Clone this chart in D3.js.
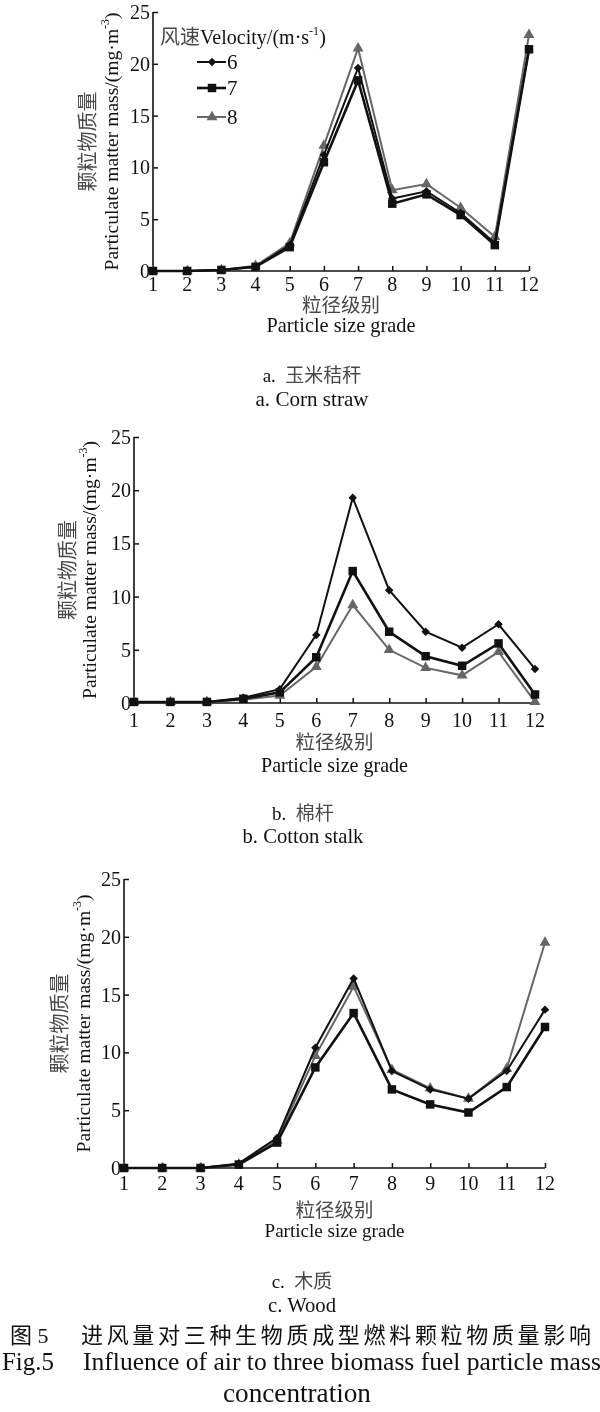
<!DOCTYPE html>
<html><head><meta charset="utf-8">
<script src="https://cdn.jsdelivr.net/npm/d3@7/dist/d3.min.js"></script>
<style>
body{margin:0;background:#fff;}
svg{display:block;will-change:transform;}
.en{font-family:"Liberation Serif","Times New Roman",serif;fill:#111;}
.zh{font-family:"Liberation Serif","Noto Sans CJK SC",sans-serif;fill:#484848;}
</style></head>
<body>
<svg id="chart" width="600" height="1412"></svg>
<script>
// ---------- data ----------
const grades = [1,2,3,4,5,6,7,8,9,10,11,12];
const yTicks = [0,5,10,15,20,25];
const velocities = ["6","7","8"];

const cornV6 = [0,0,0.1,0.4,2.5,11.2,19.6,7.0,7.7,5.6,2.7,21.4];
const cornV7 = [0,0,0.1,0.4,2.3,10.5,18.4,6.5,7.4,5.4,2.5,21.4];
const cornV8 = [0,0,0.1,0.5,2.7,12.1,21.5,7.8,8.4,6.1,3.3,22.8];

const cottonV6 = [0.1,0.1,0.1,0.5,1.3,6.4,19.3,10.6,6.7,5.2,7.4,3.2];
const cottonV7 = [0.1,0.1,0.1,0.4,1.0,4.3,12.4,6.7,4.4,3.5,5.6,0.8];
const cottonV8 = [0.1,0.1,0.1,0.3,0.7,3.4,9.2,5.0,3.3,2.6,4.8,0.1];

const woodV6 = [0,0,0,0.4,2.6,10.4,16.4,8.4,6.8,6.0,8.4,13.7];
const woodV7 = [0,0,0,0.3,2.2,8.7,13.4,6.8,5.5,4.8,7.0,12.2];
const woodV8 = [0,0,0,0.3,2.4,9.7,15.7,8.5,6.9,6.0,8.6,19.5];

const panelCapLetters = ["a.","b.","c."];
const panelCaptionsZh = ["玉米秸秆","棉杆","木质"];
const panelCaptionsEn = ["a. Corn straw","b. Cotton stalk","c. Wood"];

// ---------- styles / layout ----------
const seriesStyle = [
  {color:"#111", width:2,   symbol:"diamond",  size:36},
  {color:"#111", width:2.6, symbol:"square",   size:72},
  {color:"#666", width:2,   symbol:"triangle", size:52}
];

const panels = [
  {series:[cornV6,cornV7,cornV8], left:153, right:529, top:12, bottom:271,
   zhX:88, enX:111, tickBase:291, xZhBase:312, xEnBase:332, psgW:149,
   capZhBase:382, capEnBase:406, capX:312, capEnW:113, legend:true},
  {series:[cottonV6,cottonV7,cottonV8], left:134, right:535, top:437, bottom:703,
   zhX:68, enX:89, tickBase:727, xZhBase:749, xEnBase:772, psgW:147,
   capZhBase:820, capEnBase:843, capX:303, capEnW:121, legend:false},
  {series:[woodV6,woodV7,woodV8], left:124, right:545, top:879, bottom:1168,
   zhX:60, enX:83, tickBase:1190, xZhBase:1217, xEnBase:1237, psgW:140,
   capZhBase:1288, capEnBase:1312, capX:302, capEnW:68, legend:false}
];

const svg = d3.select("#chart");

function fitWidth(sel, w){
  const n = sel.node();
  const cur = n.getComputedTextLength();
  const fs = parseFloat(sel.attr("font-size"));
  if(cur>0) sel.attr("font-size", (fs*w/cur).toFixed(2));
  return sel;
}
function symbolPath(kind, size){
  if(kind==="triangle") return d3.symbol().type(d3.symbolTriangle).size(size)();
  return d3.symbol().type(d3.symbolSquare).size(size)();
}

panels.forEach((p, pi) => {
  const x = d3.scaleLinear().domain([1,12]).range([p.left, p.right]);
  const y = d3.scaleLinear().domain([0,25]).range([p.bottom, p.top]);
  const g = svg.append("g");

  // y axis (ticks inward)
  const ya = g.append("g").attr("transform",`translate(${p.left},0)`)
    .call(d3.axisRight(y).tickValues(yTicks).tickSize(5).tickFormat(""));
  ya.select(".domain").attr("stroke","#111").attr("stroke-width",1.6)
    .attr("d",`M0,${p.top}V${p.bottom}`);
  ya.selectAll(".tick line").attr("stroke","#111").attr("stroke-width",1.5);
  g.selectAll(".ylab").data(yTicks).enter().append("text")
    .attr("class","en").attr("x",p.left-3).attr("y",d=>y(d)+7)
    .attr("text-anchor","end").attr("font-size",20).text(d=>d);

  // x axis (ticks upward)
  const xa = g.append("g").attr("transform",`translate(0,${p.bottom})`)
    .call(d3.axisTop(x).tickValues(grades).tickSize(5).tickFormat(""));
  xa.select(".domain").attr("stroke","#111").attr("stroke-width",1.6)
    .attr("d",`M${p.left},0H${p.right}`);
  xa.selectAll(".tick line").attr("stroke","#111").attr("stroke-width",1.5);
  g.selectAll(".xlab").data(grades).enter().append("text")
    .attr("class","en").attr("x",d=>x(d)).attr("y",p.tickBase)
    .attr("text-anchor","middle").attr("font-size",20).text(d=>d);

  // axis titles
  const cx = (p.left+p.right)/2, cy = (p.top+p.bottom)/2;
  g.append("text").attr("class","zh").attr("font-size",20)
    .attr("transform",`translate(${p.zhX},${cy}) rotate(-90)`)
    .attr("text-anchor","middle").attr("dy","0.35em").text("颗粒物质量");
  const en = g.append("text").attr("class","en").attr("font-size",19)
    .attr("transform",`translate(${p.enX},${cy}) rotate(-90)`)
    .attr("text-anchor","middle").attr("dy","0.35em");
  en.append("tspan").text("Particulate matter mass/(mg·m");
  en.append("tspan").attr("font-size","0.6em").attr("dy","-0.75em").text("-3");
  en.append("tspan").attr("dy","0.45em").text(")");
  fitWidth(en, 258);
  g.append("text").attr("class","zh").attr("font-size",19.5).attr("x",cx).attr("y",p.xZhBase)
    .attr("text-anchor","middle").text("粒径级别");
  fitWidth(g.append("text").attr("class","en").attr("font-size",20).attr("x",cx).attr("y",p.xEnBase)
    .attr("text-anchor","middle").text("Particle size grade"), p.psgW);

  // captions
  const cz = g.append("text").attr("x",p.capX).attr("y",p.capZhBase).attr("text-anchor","middle").attr("font-size",19);
  cz.append("tspan").attr("class","en").text(panelCapLetters[pi]+"\u00a0\u00a0");
  cz.append("tspan").attr("class","zh").text(panelCaptionsZh[pi]);
  fitWidth(g.append("text").attr("class","en").attr("font-size",20).attr("x",p.capX).attr("y",p.capEnBase)
    .attr("text-anchor","middle").text(panelCaptionsEn[pi]), p.capEnW);

  // series: gray (8) drawn first, then 6, then 7
  const order = [2,0,1];
  const line = d3.line().x((d,i)=>x(grades[i])).y(d=>y(d));
  order.forEach(si => {
    const st = seriesStyle[si], vals = p.series[si];
    g.append("path").datum(vals).attr("d",line).attr("fill","none")
      .attr("stroke",st.color).attr("stroke-width",st.width).attr("stroke-linejoin","miter");
    g.selectAll(null).data(vals).enter().append("path")
      .attr("d",symbolPath(st.symbol, st.size))
      .attr("transform",(d,i)=>`translate(${x(grades[i])},${y(d)})`+(st.symbol==="diamond"?" rotate(45)":""))
      .attr("fill",st.color);
  });

  // legend
  if(p.legend){
    const lt = g.append("text").attr("x",160).attr("y",44).attr("font-size",19);
    lt.append("tspan").attr("class","zh").text("风速");
    lt.append("tspan").attr("class","en").text("Velocity/(m·s");
    lt.append("tspan").attr("class","en").attr("font-size","0.6em").attr("dy","-0.75em").text("-1");
    lt.append("tspan").attr("class","en").attr("dy","0.45em").text(")");
    fitWidth(lt, 166);
    const rows = [62,88,117];
    velocities.forEach((v,i)=>{
      const st = seriesStyle[i];
      g.append("line").attr("x1",197).attr("x2",226).attr("y1",rows[i]).attr("y2",rows[i])
        .attr("stroke",st.color).attr("stroke-width",st.width);
      g.append("path").attr("d",symbolPath(st.symbol, st.size))
        .attr("transform",`translate(212,${rows[i]})`+(st.symbol==="diamond"?" rotate(45)":""))
        .attr("fill",st.color);
      g.append("text").attr("class","en").attr("font-size",21).attr("x",227).attr("y",rows[i]+7)
        .text(v);
    });
  }
});

// figure caption
svg.append("text").attr("class","zh").attr("font-size",22).attr("x",10).attr("y",1343)
  .style("fill","#111").text("图 5");
svg.append("text").attr("class","zh").attr("font-size",22).attr("x",81).attr("y",1343)
  .attr("textLength",510).attr("lengthAdjust","spacing").style("fill","#111")
  .text("进风量对三种生物质成型燃料颗粒物质量影响");
fitWidth(svg.append("text").attr("class","en").attr("font-size",22).attr("x",2).attr("y",1370)
  .text("Fig.5"), 52);
fitWidth(svg.append("text").attr("class","en").attr("font-size",22).attr("x",83).attr("y",1370)
  .text("Influence of air to three biomass fuel particle mass"), 518);
fitWidth(svg.append("text").attr("class","en").attr("font-size",22).attr("x",297).attr("y",1402)
  .attr("text-anchor","middle").text("concentration"), 148);
</script>
</body></html>
